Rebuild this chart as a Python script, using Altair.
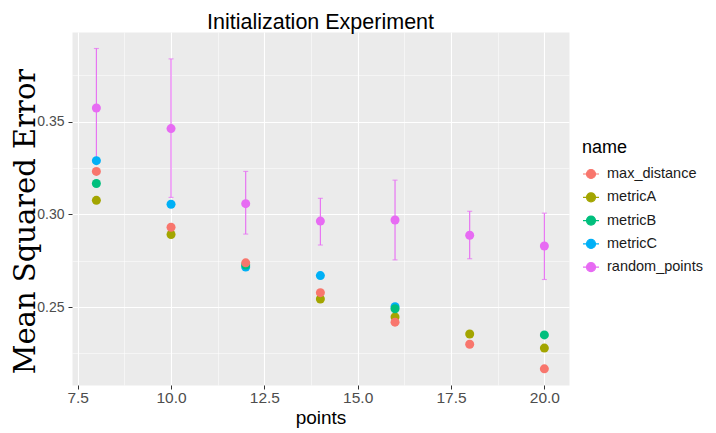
import altair as alt
import pandas as pd

# ---- data ----
points = [8, 10, 12, 14, 16, 18, 20]
names = ["max_distance", "metricA", "metricB", "metricC", "random_points"]
colors = ["#F8766D", "#A3A500", "#00BF7D", "#00B0F6", "#E76BF3"]

max_distance = [0.3232, 0.2931, 0.2739, 0.2578, 0.2419, 0.2300, 0.2167]
metricA = [0.3076, 0.2892, None, 0.2544, 0.2447, 0.2355, 0.2279]
metricB = [0.3167, None, 0.2727, None, 0.2491, None, 0.2350]
metricC = [0.3290, 0.3055, 0.2716, 0.2670, 0.2502, None, None]
random_points = [0.3574, 0.3463, 0.3058, 0.2964, 0.2970, 0.2888, 0.2830]
random_low = [0.3290, 0.3092, 0.2894, 0.2835, 0.2755, 0.2761, 0.2649]
random_high = [0.3895, 0.3839, 0.3232, 0.3087, 0.3185, 0.3017, 0.3007]

# drawing order (later on top)
draw_order = ["metricA", "metricC", "metricB", "max_distance", "random_points"]
series = {
    "max_distance": max_distance,
    "metricA": metricA,
    "metricB": metricB,
    "metricC": metricC,
    "random_points": random_points,
}

rows = []
for i, n in enumerate(draw_order):
    for p, v in zip(points, series[n]):
        if v is not None:
            rows.append({"points": p, "mse": v, "name": n, "order": i})
df = pd.DataFrame(rows)

err = pd.DataFrame({"points": points, "low": random_low, "high": random_high,
                    "name": ["random_points"] * len(points)})

x_dom = [7.347, 20.66]
y_dom = [0.208, 0.3984]
x_vals = [7.5 + 1.25 * k for k in range(11)]
y_vals = [0.225, 0.25, 0.275, 0.30, 0.325, 0.35, 0.375]

x_major = "abs(datum.value/2.5 - round(datum.value/2.5)) < 0.001"
y_major = "abs(datum.value/0.05 - round(datum.value/0.05)) < 0.001"

x_axis = alt.Axis(
    values=x_vals, title="points", grid=True, domain=False,
    gridColor="white",
    gridWidth={"condition": {"test": x_major, "value": 1.1}, "value": 0.5},
    tickColor={"condition": {"test": x_major, "value": "#333333"}, "value": "transparent"},
    tickSize=4, labelExpr=f"({x_major}) ? format(datum.value, '.1f') : ''",
    labelFont="Liberation Sans", labelFontSize=15.5, labelColor="#4d4d4d",
    labelPadding=1, labelFlush=False, labelOverlap=False,
    titleFont="Liberation Sans", titleFontSize=19, titleFontWeight="normal",
    titleColor="black", titleBaseline="alphabetic", titleY=38,
)
y_axis = alt.Axis(
    values=y_vals, title="Mean Squared Error", grid=True, domain=False,
    gridColor="white",
    gridWidth={"condition": {"test": y_major, "value": 1.1}, "value": 0.5},
    tickColor={"condition": {"test": y_major, "value": "#333333"}, "value": "transparent"},
    tickSize=4, labelExpr=f"({y_major}) ? format(datum.value, '.2f') : ''",
    labelFont="Liberation Sans", labelFontSize=14, labelColor="#4d4d4d",
    labelPadding=4, labelFlush=False, labelOverlap=False,
    titleFont="DejaVu Serif", titleFontSize=29, titleFontWeight="normal",
    titleColor="black", titleAngle=270, titleBaseline="alphabetic",
    titleAlign="center", titleX=-38, titleY=189,
)

X = alt.X("points:Q", scale=alt.Scale(domain=x_dom, nice=False, zero=False), axis=x_axis)
Y = alt.Y("mse:Q", scale=alt.Scale(domain=y_dom, nice=False, zero=False), axis=y_axis)

legend = alt.Legend(
    title="name", orient="none", legendX=510, legendY=107,
    titleFont="Liberation Sans", titleFontSize=18, titleFontWeight="normal",
    titleColor="black", titlePadding=8,
    labelFont="Liberation Sans", labelFontSize=14.5, labelColor="#1a1a1a",
    labelOffset=7, rowPadding=7.3,
    symbolType="M-1,0L1,0M0.5625,0A0.5625,0.5625,0,1,1,-0.5625,0A0.5625,0.5625,0,1,1,0.5625,0Z",
    symbolSize=256, symbolStrokeWidth=1.2, symbolOpacity=1,
    padding=0,
)

fill_scale = alt.Scale(domain=names, range=colors)

err_rule = alt.Chart(err).mark_rule(strokeWidth=1.1).encode(
    x=X,
    y=alt.Y("low:Q", scale=alt.Scale(domain=y_dom, nice=False, zero=False), axis=y_axis),
    y2="high:Q",
    stroke=alt.Stroke("name:N", scale=fill_scale, legend=legend),
)
cap_lo = alt.Chart(err).mark_tick(orient="horizontal", size=5, thickness=1.1, color="#E76BF3").encode(
    x=X, y=alt.Y("low:Q", scale=alt.Scale(domain=y_dom, nice=False, zero=False), axis=y_axis),
)
cap_hi = alt.Chart(err).mark_tick(orient="horizontal", size=5, thickness=1.1, color="#E76BF3").encode(
    x=X, y=alt.Y("high:Q", scale=alt.Scale(domain=y_dom, nice=False, zero=False), axis=y_axis),
)
pts = alt.Chart(df).mark_point(filled=True, size=81, opacity=1, shape="circle").encode(
    x=X, y=Y,
    fill=alt.Fill("name:N", scale=fill_scale, legend=legend),
    order=alt.Order("order:Q"),
)

chart = alt.layer(err_rule, cap_lo, cap_hi, pts).properties(
    width=497, height=353,
    background="white",
    title=alt.TitleParams("Initialization Experiment", font="Liberation Sans",
                          fontSize=21.5, fontWeight="normal", color="black",
                          anchor="middle", frame="group", baseline="alphabetic",
                          offset=6, dy=24),
    autosize=alt.AutoSizeParams(type="none"),
    padding={"left": 64, "top": 24, "right": 139, "bottom": 48},
).configure_view(fill="#EBEBEB", strokeOpacity=0)

chart.save("out.html", embed_options={"renderer": "svg", "actions": False})
